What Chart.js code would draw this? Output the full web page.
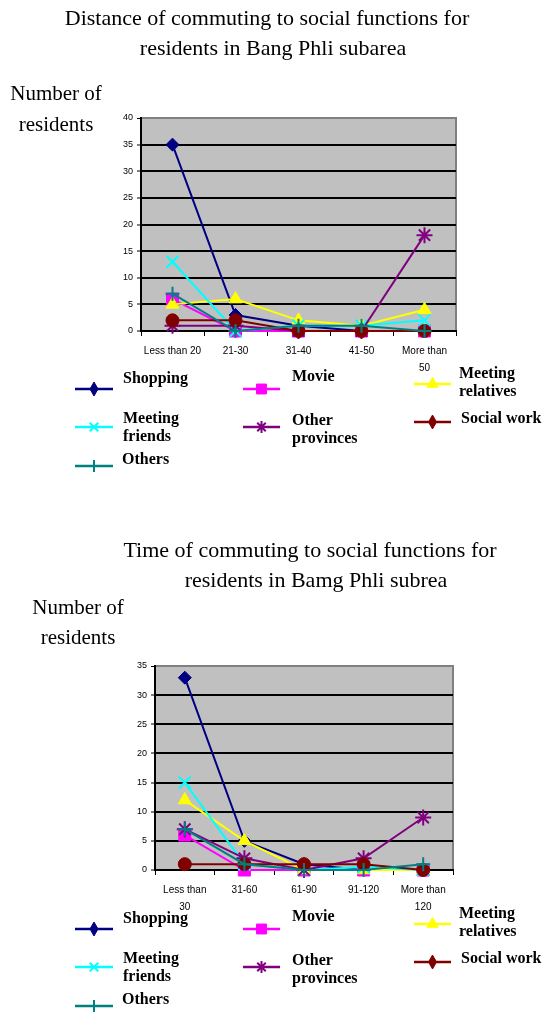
<!DOCTYPE html>
<html>
<head>
<meta charset="utf-8">
<script src="https://cdn.jsdelivr.net/npm/chart.js@4.4.0/dist/chart.umd.min.js"></script>
<style>
  html, body { margin: 0; padding: 0; background: #fff; }
  #wrap { position: relative; width: 544px; height: 1012px; }
  canvas { position: absolute; left: 0; }
</style>
</head>
<body>
<div id="wrap">
  <canvas id="distChart" width="544" height="506" style="top:0"></canvas>
  <canvas id="timeChart" width="544" height="506" style="top:506px"></canvas>
</div>
<script>
// ---- data ----
const seriesNames = ['Shopping', 'Movie', 'Meeting relatives', 'Meeting friends', 'Other provinces', 'Social work', 'Others'];

const distanceCategories = [['Less than 20'], ['21-30'], ['31-40'], ['41-50'], ['More than', '50']];
const distanceTickMax = 40;
const distanceTickStep = 5;
const distShopping        = [35, 3, 1, 0, 0];
const distMovie           = [6, 0, 0, 0, 0];
const distRelatives       = [5, 6, 2, 1, 4];
const distFriends         = [13, 0, 1, 1, 2];
const distOtherProvinces  = [1, 1, 0, 0, 18];
const distSocialWork      = [2, 2, 0, 0, 0];
const distOthers          = [7, 0, 1, 1, 0];

const timeCategories = [['Less than', '30'], ['31-60'], ['61-90'], ['91-120'], ['More than', '120']];
const timeTickMax = 35;
const timeTickStep = 5;
const timeShopping        = [33, 5, 1, 0, 0];
const timeMovie           = [6, 0, 0, 0, 0];
const timeRelatives       = [12, 5, 0, 0, 0];
const timeFriends         = [15, 1, 0, 0.5, 0];
const timeOtherProvinces  = [7, 2, 0, 2, 9];
const timeSocialWork      = [1, 1, 1, 1, 0];
const timeOthers          = [7, 1, 0, 0, 1];

// ---- series styling ----
const seriesStyles = [
  { color: '#000080', point: 'rectRot',  r: 6.5, bw: 1, legendPoint: 'rectRot', lr: 7, lw: 8 },
  { color: '#FF00FF', point: 'rect',     r: 8.5, bw: 1, legendPoint: 'rect',    lr: 7, lw: 0 },
  { color: '#FFFF00', point: 'triangle', r: 7.5, bw: 1, legendPoint: 'triangle',lr: 6.5, lw: 0 },
  { color: '#00FFFF', point: 'crossRot', r: 8.5, bw: 2, legendPoint: 'crossRot',lr: 6, lw: 0 },
  { color: '#800080', point: 'star',     r: 8,   bw: 2, legendPoint: 'star',    lr: 6, lw: 0 },
  { color: '#800000', point: 'circle',   r: 6.5, bw: 1, legendPoint: 'rectRot', lr: 7, lw: 8 },
  { color: '#008080', point: 'cross',    r: 7,   bw: 2, legendPoint: 'cross',   lr: 6, lw: 0 }
];

// legend block: text lines, text x, first text line y, marker line x1..x2, marker y
const legendLayout = [
  { lines: ['Shopping'],              tx: 123, ty: 379, x1: 75,  x2: 113, my: 389 },
  { lines: ['Movie'],                 tx: 292, ty: 377, x1: 243, x2: 280, my: 389 },
  { lines: ['Meeting', 'relatives'],  tx: 459, ty: 374, x1: 414, x2: 451, my: 384 },
  { lines: ['Meeting', 'friends'],    tx: 123, ty: 419, x1: 75,  x2: 113, my: 427 },
  { lines: ['Other', 'provinces'],    tx: 292, ty: 421, x1: 243, x2: 280, my: 427 },
  { lines: ['Social work'],           tx: 461, ty: 419, x1: 414, x2: 451, my: 422 },
  { lines: ['Others'],                tx: 122, ty: 460, x1: 75,  x2: 113, my: 466 }
];

const SERIF = '"Liberation Serif", "Times New Roman", serif';
const SANS = '"Liberation Sans", Arial, sans-serif';

function buildDatasets(seriesValues) {
  return seriesValues.map((vals, i) => {
    const s = seriesStyles[i];
    return {
      label: seriesNames[i],
      data: vals,
      borderColor: s.color,
      backgroundColor: s.color,
      borderWidth: 2,
      pointStyle: s.point,
      pointRadius: s.r,
      pointHoverRadius: s.r,
      pointBackgroundColor: s.color,
      pointBorderColor: s.color,
      pointBorderWidth: s.bw,
      tension: 0,
      clip: false,
      order: seriesValues.length - 1 - i
    };
  });
}

// draws the gray plot panel, titles, axis caption and the legend
const decorPlugin = {
  id: 'decor',
  beforeDraw(chart, args, opts) {
    const { ctx, chartArea: a } = chart;
    ctx.save();
    ctx.fillStyle = '#fff';
    ctx.fillRect(0, 0, chart.width, chart.height);
    ctx.fillStyle = '#C0C0C0';
    ctx.fillRect(a.left, a.top, a.right - a.left, a.bottom - a.top);
    ctx.strokeStyle = '#808080';
    ctx.lineWidth = 2;
    ctx.beginPath();
    ctx.moveTo(a.left, a.top);
    ctx.lineTo(a.right, a.top);
    ctx.lineTo(a.right, a.bottom);
    ctx.stroke();
    ctx.restore();
  },
  afterDraw(chart, args, opts) {
    const ctx = chart.ctx;
    ctx.save();
    ctx.fillStyle = '#000';
    ctx.textBaseline = 'middle';
    ctx.textAlign = 'center';
    ctx.font = '22px ' + SERIF;
    opts.title.forEach((t, i) => ctx.fillText(t, opts.titleX[i], opts.titleY[i]));
    ctx.font = '21px ' + SERIF;
    opts.caption.forEach((t, i) => ctx.fillText(t, opts.captionX, opts.captionY[i]));

    // legend
    const dy = opts.legendOffset;
    ctx.textAlign = 'left';
    ctx.font = 'bold 16px ' + SERIF;
    legendLayout.forEach((item, i) => {
      const s = seriesStyles[i];
      ctx.strokeStyle = s.color;
      ctx.fillStyle = s.color;
      ctx.lineWidth = 2.5;
      ctx.beginPath();
      ctx.moveTo(item.x1, item.my + dy);
      ctx.lineTo(item.x2, item.my + dy);
      ctx.stroke();
      const cx = (item.x1 + item.x2) / 2;
      const po = { pointStyle: s.legendPoint, radius: s.lr, rotation: 0, borderWidth: s.bw };
      ctx.lineWidth = s.bw;
      if (s.lw && Chart.helpers.drawPointLegend) {
        Chart.helpers.drawPointLegend(ctx, po, cx, item.my + dy, s.lw);
      } else {
        Chart.helpers.drawPoint(ctx, po, cx, item.my + dy);
      }
      ctx.fillStyle = '#000';
      item.lines.forEach((l, k) => ctx.fillText(l, item.tx, item.ty + dy + k * 18));
    });
    ctx.restore();
  }
};

function makeChart(id, categories, seriesValues, tickMax, tickStep, pad, decor) {
  return new Chart(document.getElementById(id), {
    type: 'line',
    data: { labels: categories, datasets: buildDatasets(seriesValues) },
    options: {
      responsive: false,
      animation: false,
      events: [],
      layout: { padding: pad },
      plugins: {
        legend: { display: false },
        title: { display: false },
        tooltip: { enabled: false },
        decor: decor
      },
      scales: {
        x: {
          type: 'category',
          offset: true,
          afterFit(s) { s.height = 40; },
          grid: {
            offset: true,
            drawOnChartArea: false,
            drawTicks: true,
            tickLength: 5,
            color: '#000',
            lineWidth: 1
          },
          border: { display: true, color: '#000', width: 2 },
          ticks: {
            color: '#000',
            padding: 7,
            maxRotation: 0,
            autoSkip: false,
            font: { family: SANS, size: 10, lineHeight: 1.7 }
          }
        },
        y: {
          min: 0,
          max: tickMax,
          afterFit(s) { s.width = 30; },
          grid: {
            color: (c) => (c.tick && c.tick.value === tickMax ? '#808080' : '#000'),
            lineWidth: (c) => (c.tick && c.tick.value === tickMax ? 1 : 2),
            drawTicks: true,
            tickLength: 4,
            tickColor: '#000',
            tickWidth: 1
          },
          border: { display: true, color: '#000', width: 2 },
          ticks: {
            stepSize: tickStep,
            color: '#000',
            padding: 4,
            font: { family: SANS, size: 9 }
          }
        }
      }
    },
    plugins: [decorPlugin]
  });
}

makeChart('distChart', distanceCategories,
  [distShopping, distMovie, distRelatives, distFriends, distOtherProvinces, distSocialWork, distOthers],
  distanceTickMax, distanceTickStep,
  { left: 111, right: 88, top: 118, bottom: 135 },
  {
    title: ['Distance of commuting to social functions for', 'residents in Bang Phli subarea'],
    titleX: [267, 273], titleY: [19, 49],
    caption: ['Number of', 'residents'], captionX: 56, captionY: [94, 125],
    legendOffset: 0
  });

makeChart('timeChart', timeCategories,
  [timeShopping, timeMovie, timeRelatives, timeFriends, timeOtherProvinces, timeSocialWork, timeOthers],
  timeTickMax, timeTickStep,
  { left: 125, right: 91, top: 160, bottom: 102 },
  {
    title: ['Time of commuting to social functions for', 'residents in Bamg Phli subrea'],
    titleX: [310, 316], titleY: [45, 75],
    caption: ['Number of', 'residents'], captionX: 78, captionY: [102, 132],
    legendOffset: 34
  });
</script>
</body>
</html>
